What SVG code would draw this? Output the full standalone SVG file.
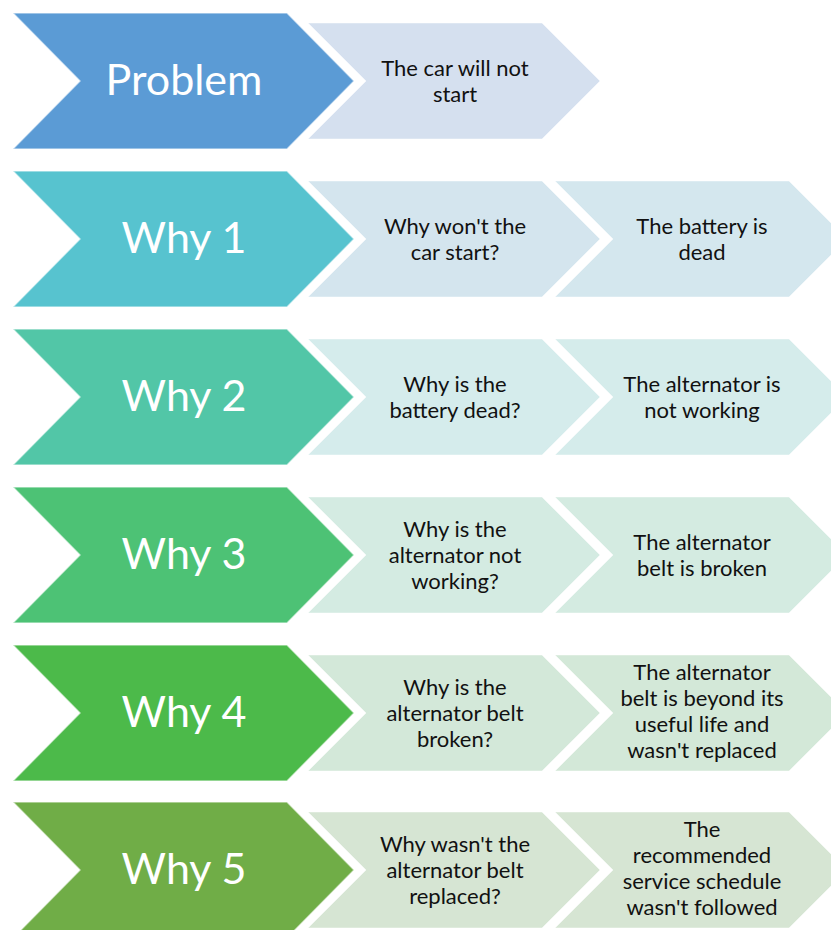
<svg xmlns="http://www.w3.org/2000/svg" width="831" height="930" viewBox="0 0 831 930">
  <defs>
    <!-- big chevron: notch at x=80, tip at x=354, height 136 -->
    <polygon id="bigChev" points="13,-68 287,-68 354,0 287,68 13,68 80,0"/>
    <!-- small chevron: height 116, 58 px point -->
    <polygon id="smallChev" points="0,-58 234,-58 292,0 234,58 0,58 58,0"/>
  </defs>
  <style>
    .big { stroke: #ffffff; stroke-opacity: 0.55; stroke-width: 1.5; }
    .small { stroke: #ffffff; stroke-opacity: 0.45; stroke-width: 1; }
    .title { font-family: Lato, "Open Sans", sans-serif; font-size: 43px; fill: #ffffff; text-anchor: middle; }
    .label { font-family: Lato, "Open Sans", sans-serif; font-size: 22px; fill: #111111; text-anchor: middle; }
  </style>
  <rect width="831" height="930" fill="#ffffff"/>

  <!-- Problem row -->
  <g id="row-problem" transform="translate(0,81)">
    <g id="problem">
      <use href="#bigChev" class="big" fill="#5B9BD5"/>
      <text class="title" x="184" y="14">Problem</text>
    </g>
    <g id="problem-statement" transform="translate(308,0)">
      <use href="#smallChev" class="small" fill="#D5E0EF"/>
      <text class="label" x="147" y="-5">The car will not</text>
      <text class="label" x="147" y="21">start</text>
    </g>
  </g>

  <!-- Why 1 -->
  <g id="row-why1" transform="translate(0,239)">
    <g id="why1">
      <use href="#bigChev" class="big" fill="#57C3CF"/>
      <text class="title" x="184" y="14">Why 1</text>
    </g>
    <g id="why1-question" transform="translate(308,0)">
      <use href="#smallChev" class="small" fill="#D4E5EE"/>
      <text class="label" x="147" y="-5">Why won't the</text>
      <text class="label" x="147" y="21">car start?</text>
    </g>
    <g id="why1-answer" transform="translate(555,0)">
      <use href="#smallChev" class="small" fill="#D4E7EE"/>
      <text class="label" x="147" y="-5">The battery is</text>
      <text class="label" x="147" y="21">dead</text>
    </g>
  </g>

  <!-- Why 2 -->
  <g id="row-why2" transform="translate(0,397)">
    <g id="why2">
      <use href="#bigChev" class="big" fill="#52C6A7"/>
      <text class="title" x="184" y="14">Why 2</text>
    </g>
    <g id="why2-question" transform="translate(308,0)">
      <use href="#smallChev" class="small" fill="#D5ECEC"/>
      <text class="label" x="147" y="-5">Why is the</text>
      <text class="label" x="147" y="21">battery dead?</text>
    </g>
    <g id="why2-answer" transform="translate(555,0)">
      <use href="#smallChev" class="small" fill="#D5ECEB"/>
      <text class="label" x="147" y="-5">The alternator is</text>
      <text class="label" x="147" y="21">not working</text>
    </g>
  </g>

  <!-- Why 3 -->
  <g id="row-why3" transform="translate(0,555)">
    <g id="why3">
      <use href="#bigChev" class="big" fill="#4DC275"/>
      <text class="title" x="184" y="14">Why 3</text>
    </g>
    <g id="why3-question" transform="translate(308,0)">
      <use href="#smallChev" class="small" fill="#D4EBE2"/>
      <text class="label" x="147" y="-18">Why is the</text>
      <text class="label" x="147" y="8">alternator not</text>
      <text class="label" x="147" y="34">working?</text>
    </g>
    <g id="why3-answer" transform="translate(555,0)">
      <use href="#smallChev" class="small" fill="#D4EBE1"/>
      <text class="label" x="147" y="-5">The alternator</text>
      <text class="label" x="147" y="21">belt is broken</text>
    </g>
  </g>

  <!-- Why 4 -->
  <g id="row-why4" transform="translate(0,713)">
    <g id="why4">
      <use href="#bigChev" class="big" fill="#4CBA4A"/>
      <text class="title" x="184" y="14">Why 4</text>
    </g>
    <g id="why4-question" transform="translate(308,0)">
      <use href="#smallChev" class="small" fill="#D3E8D9"/>
      <text class="label" x="147" y="-18">Why is the</text>
      <text class="label" x="147" y="8">alternator belt</text>
      <text class="label" x="147" y="34">broken?</text>
    </g>
    <g id="why4-answer" transform="translate(555,0)">
      <use href="#smallChev" class="small" fill="#D3E8D8"/>
      <text class="label" x="147" y="-33">The alternator</text>
      <text class="label" x="147" y="-7">belt is beyond its</text>
      <text class="label" x="147" y="19">useful life and</text>
      <text class="label" x="147" y="45">wasn't replaced</text>
    </g>
  </g>

  <!-- Why 5 -->
  <g id="row-why5" transform="translate(0,870)">
    <g id="why5">
      <use href="#bigChev" class="big" fill="#70AD47"/>
      <text class="title" x="184" y="14">Why 5</text>
    </g>
    <g id="why5-question" transform="translate(308,0)">
      <use href="#smallChev" class="small" fill="#D6E5D3"/>
      <text class="label" x="147" y="-18">Why wasn't the</text>
      <text class="label" x="147" y="8">alternator belt</text>
      <text class="label" x="147" y="34">replaced?</text>
    </g>
    <g id="why5-answer" transform="translate(555,0)">
      <use href="#smallChev" class="small" fill="#D6E5D3"/>
      <text class="label" x="147" y="-33">The</text>
      <text class="label" x="147" y="-7">recommended</text>
      <text class="label" x="147" y="19">service schedule</text>
      <text class="label" x="147" y="45">wasn't followed</text>
    </g>
  </g>

  <!-- no connectors: the chevrons themselves carry the flow -->
  <g id="connectors"/>
</svg>
